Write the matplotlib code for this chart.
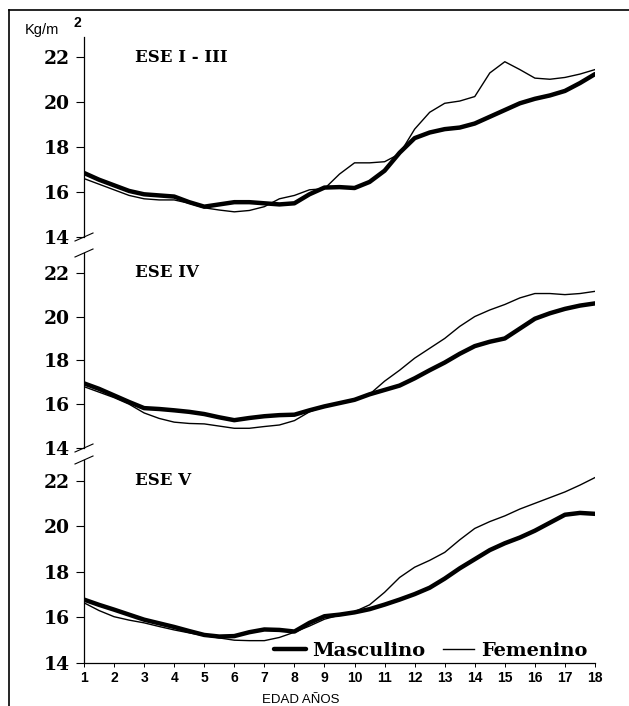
import matplotlib
matplotlib.use("Agg")
import matplotlib.pyplot as plt
from matplotlib.lines import Line2D

# edad en años (cada medio año)
edad = [1 + 0.5 * i for i in range(35)]

# ESE I - III
masc_1 = [16.85, 16.55, 16.3, 16.05, 15.9, 15.85, 15.8, 15.55, 15.35, 15.45,
          15.55, 15.55, 15.5, 15.45, 15.5, 15.9, 16.2, 16.22, 16.18, 16.45,
          16.95, 17.75, 18.4, 18.65, 18.8, 18.87, 19.05, 19.35, 19.65, 19.95,
          20.15, 20.3, 20.5, 20.85, 21.25]
fem_1 = [16.6, 16.35, 16.1, 15.85, 15.7, 15.65, 15.65, 15.5, 15.3, 15.2,
         15.12, 15.18, 15.35, 15.7, 15.85, 16.1, 16.15, 16.8, 17.3, 17.3,
         17.35, 17.7, 18.8, 19.55, 19.95, 20.05, 20.25, 21.3, 21.8, 21.45,
         21.07, 21.02, 21.1, 21.25, 21.45]

# ESE IV
masc_2 = [16.95, 16.7, 16.4, 16.1, 15.82, 15.78, 15.72, 15.65, 15.55, 15.4,
          15.27, 15.37, 15.45, 15.5, 15.52, 15.72, 15.9, 16.05, 16.2, 16.45,
          16.65, 16.85, 17.18, 17.55, 17.9, 18.3, 18.65, 18.85, 19.0, 19.45,
          19.9, 20.15, 20.35, 20.5, 20.6]
fem_2 = [16.8, 16.55, 16.3, 16.0, 15.6, 15.35, 15.18, 15.12, 15.1, 15.0,
         14.9, 14.9, 14.98, 15.05, 15.25, 15.65, 15.9, 16.05, 16.2, 16.45,
         17.05, 17.55, 18.1, 18.55, 19.0, 19.55, 20.0, 20.3, 20.55, 20.85,
         21.05, 21.05, 21.0, 21.05, 21.15]

# ESE V
masc_3 = [16.78, 16.55, 16.34, 16.12, 15.9, 15.74, 15.58, 15.4, 15.23, 15.16,
          15.18, 15.35, 15.47, 15.45, 15.38, 15.76, 16.05, 16.12, 16.22, 16.36,
          16.56, 16.78, 17.02, 17.3, 17.7, 18.15, 18.55, 18.95, 19.25, 19.5,
          19.8, 20.15, 20.5, 20.58, 20.54]
fem_3 = [16.64, 16.3, 16.03, 15.88, 15.76, 15.6, 15.45, 15.32, 15.2, 15.1,
         15.0, 14.98, 14.98, 15.12, 15.35, 15.62, 15.92, 16.1, 16.25, 16.55,
         17.1, 17.75, 18.2, 18.5, 18.85, 19.4, 19.9, 20.2, 20.45, 20.75,
         21.0, 21.25, 21.5, 21.8, 22.13]

paneles = ["ESE I - III", "ESE IV", "ESE V"]
masculino = [masc_1, masc_2, masc_3]
femenino = [fem_1, fem_2, fem_3]
y_ticks = [14, 16, 18, 20, 22]
x_ticks = list(range(1, 19))

W, H = 629, 706
fig = plt.figure(figsize=(W / 100, H / 100), dpi=100)

# posiciones en pixeles (arriba, abajo) de cada panel
bordes = [(37, 237), (253, 448), (460, 663)]
izq, der = 84, 595
serif = "DejaVu Serif"

axes = []
for i, (top, bot) in enumerate(bordes):
    ax = fig.add_axes([izq / W, 1 - bot / H, (der - izq) / W, (bot - top) / H])
    ax.plot(edad, masculino[i], color="black", lw=3.2, solid_capstyle="round",
            solid_joinstyle="round", label="Masculino")
    ax.plot(edad, femenino[i], color="black", lw=1.0, solid_joinstyle="round",
            label="Femenino")
    ax.set_xlim(1, 18)
    ax.set_ylim(14, 22.9)
    ax.set_yticks(y_ticks)
    ax.set_yticklabels([str(t) for t in y_ticks], fontfamily=serif,
                       fontweight="bold", fontsize=13.5)
    ax.tick_params(axis="y", direction="out", length=6, width=0.8, pad=4)
    for s in ["top", "right"]:
        ax.spines[s].set_visible(False)
    ax.spines["left"].set_linewidth(0.9)
    ax.text(0.1, 0.9, paneles[i], transform=ax.transAxes, fontfamily=serif,
            fontweight="bold", fontsize=12, va="center")
    if i < 2:
        ax.spines["bottom"].set_visible(False)
        ax.set_xticks([])
    axes.append(ax)

# marcas de corte del eje y
for i, ax in enumerate(axes):
    h = (bordes[i][1] - bordes[i][0])
    dx, dy = 9 / (der - izq), 4 / h
    kw = dict(transform=ax.transAxes, color="black", lw=0.8, clip_on=False)
    if i < 2:
        ax.plot([-dx, dx], [-dy, dy], **kw)
    if i > 0:
        ax.plot([-dx, dx], [1 - dy, 1 + dy], **kw)

ax3 = axes[2]
ax3.set_xticks(x_ticks)
ax3.set_xticklabels([str(t) for t in x_ticks], fontfamily="Liberation Sans",
                    fontweight="bold", fontsize=10)
ax3.tick_params(axis="x", direction="out", length=3, width=0.7, pad=3)
ax3.spines["bottom"].set_linewidth(0.9)
ax3.legend(loc="lower right", bbox_to_anchor=(1.0, -0.025), ncol=2,
           frameon=False, handlelength=1.6, handletextpad=0.35,
           columnspacing=0.9, borderaxespad=0.0,
           prop=dict(family=serif, weight="bold", size=14))

fig.text(262 / W, 1 - 700 / H, "EDAD AÑOS", fontfamily="Liberation Sans",
         fontsize=9.5, va="center")
fig.text(25 / W, 1 - 30 / H, "Kg/m", fontfamily="Liberation Sans",
         fontsize=10.5, va="center")
fig.text(74 / W, 1 - 23 / H, "2", fontfamily="Liberation Sans",
         fontweight="bold", fontsize=10, va="center")

# marco del escaneo
fig.add_artist(Line2D([9 / W, 9 / W], [0, 1 - 10 / H], color="black", lw=1.2))
fig.add_artist(Line2D([9 / W, 1], [1 - 10 / H, 1 - 10 / H], color="black", lw=1.2))

fig.savefig("out.png", dpi=100)
